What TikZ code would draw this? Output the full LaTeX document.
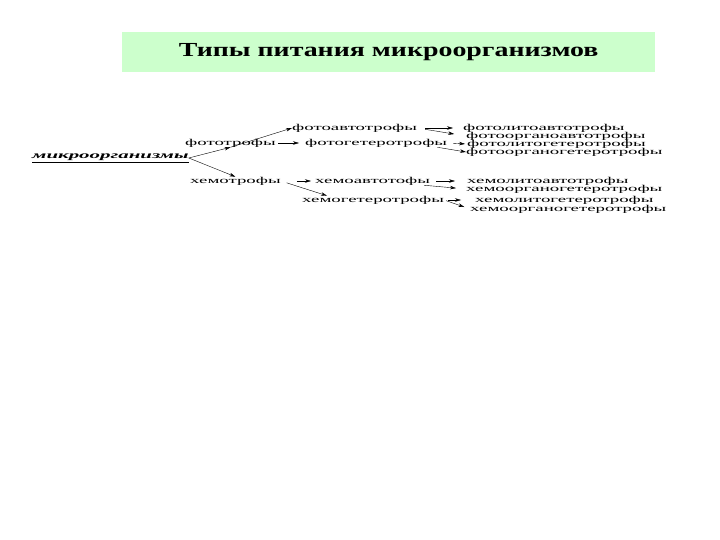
\documentclass[tikz,border=0pt]{standalone}
\usepackage{fontspec}
\setmainfont{Liberation Serif}
\newfontfamily\termfont[FakeStretch=2.1]{Liberation Serif}
\newfontfamily\headfont[FakeStretch=1.4]{Liberation Serif}
\usetikzlibrary{positioning}
\usetikzlibrary{arrows.meta}
\definecolor{headgreen}{RGB}{204,255,204}
\tikzset{term/.style={anchor=west, inner sep=0pt, font=\termfont\fontsize{9}{9}\selectfont},
            arr/.style={-{Stealth[length=6bp,width=3.5bp]}, thin}}

\begin{document}
\begin{tikzpicture}[x=1bp,y={(0,-1bp)}]
            \useasboundingbox (0,0) rectangle (720,540);
            \node[fill=headgreen, anchor=north west, minimum width=533bp, minimum height=40bp,
                font=\headfont\bfseries\fontsize{20}{20}\selectfont] (head) at (122,32) {Типы питания микроорганизмов};
            % first level
            \node[term, font=\termfont\bfseries\itshape\fontsize{10}{10}\selectfont] (micro) at (32,158) {\underline{микроорганизмы}};
            \node[term] (photo) at (185,143) {фототрофы};
            \node[term] (chemo) at (190,181) {хемотрофы};
            % second level
            \node[term] (photoauto) at (292,128) {фотоавтотрофы};
            \node[term] (photohetero) at (305,143) {фотогетеротрофы};
            \node[term] (chemoauto) at (315,181) {хемоавтотофы};
            \node[term] (chemohetero) at (302,200) {хемогетеротрофы};
            % third level
            \node[term] (pla) at (463,128) {фотолитоавтотрофы};
            \node[term] (poa) at (466,136) {фотоорганоавтотрофы};
            \node[term] (plh) at (467,144) {фотолитогетеротрофы};
            \node[term] (poh) at (466,152) {фотоорганогетеротрофы};
            \node[term] (cla) at (467,181) {хемолитоавтотрофы};
            \node[term] (coa) at (466,189) {хемоорганогетеротрофы};
            \node[term] (clh) at (475,200) {хемолитогетеротрофы};
            \node[term] (coh) at (470,209) {хемоорганогетеротрофы};
            % arrows
            \draw[arr] (micro.east) -- (photo.south);
            \draw[arr] (micro.east) -- (chemo.north);
            \draw[arr] (photo.south) -- (photoauto.west);
            \draw[arr, shorten <=2bp, shorten >=6bp] (photo.east) -- (photohetero.west);
            \draw[arr, shorten <=16bp, shorten >=4bp] (chemo.east) -- (chemoauto.west);
            \draw[arr, shorten <=6bp] (chemo.east) -- ([xshift=25bp]chemohetero.north west);
            \draw[arr, shorten <=8bp, shorten >=10bp] (photoauto.east) -- (pla.west);
            \draw[arr, shorten <=8bp, shorten >=12bp] (photoauto.east) -- (poa.west);
            \draw[arr, shorten <=6bp, shorten >=2bp] (photohetero.east) -- (plh.west);
            \draw[arr] ([xshift=-10bp]photohetero.south east) -- (poh.west);
            \draw[arr, shorten <=6bp, shorten >=12bp] (chemoauto.east) -- (cla.west);
            \draw[arr, shorten >=10bp] ([xshift=-6bp]chemoauto.south east) -- (coa.west);
            \draw[arr, shorten <=4bp, shorten >=14bp] (chemohetero.east) -- (clh.west);
            \draw[arr, shorten <=2bp, shorten >=6bp] (chemohetero.east) -- (coh.west);
        \end{tikzpicture}
\end{document}
